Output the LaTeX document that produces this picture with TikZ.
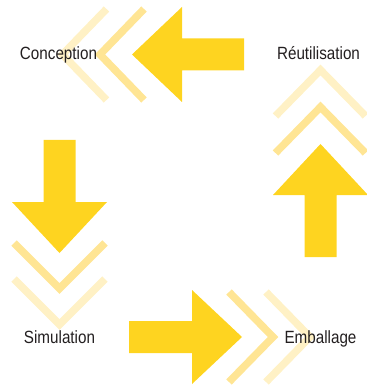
\documentclass[tikz,border=0pt]{standalone}
\usepackage{fontspec}
\newfontfamily\labfont{Liberation Sans}[FakeStretch=0.86]
\definecolor{mainy}{RGB}{254,212,32}
\definecolor{chevA}{RGB}{255,229,148}
\definecolor{chevB}{RGB}{255,241,197}
\definecolor{txt}{RGB}{35,31,32}
\tikzset{
  chev/.style={line width=7.5pt, line join=miter, line cap=butt},
  bigarrow/.style={fill=mainy, draw=none},
  lab/.style={anchor=base, inner sep=0pt, text=txt, font=\labfont\fontsize{17.7}{20}\selectfont}
}
\begin{document}
\begin{tikzpicture}[x=1pt,y=-1pt]
\useasboundingbox (0,0) rectangle (366,390);
% chevrons: top (pointing left)
\draw[chev, chevB] (106.5,9) -- (62.5,54.5) -- (106.5,100);
\draw[chev, chevA] (144,9) -- (100,54.5) -- (144,100);
% chevrons: right (pointing up)
\draw[chev, chevB] (275.5,116) -- (320.5,70) -- (365.5,116);
\draw[chev, chevA] (275.5,153) -- (320.5,107) -- (365.5,153);
% chevrons: left (pointing down)
\draw[chev, chevA] (14,243) -- (59.5,288.5) -- (105,243);
\draw[chev, chevB] (14,279) -- (59.5,324.5) -- (105,279);
% chevrons: bottom (pointing right)
\draw[chev, chevA] (229,292) -- (273,337) -- (229,382);
\draw[chev, chevB] (266,292) -- (310,337) -- (266,382);
% big arrows
\fill[bigarrow] (132,54.5) -- (182,7) -- (182,38.5) -- (244,38.5) -- (244,70.5) -- (182,70.5) -- (182,102) -- cycle;
\fill[bigarrow] (320.5,144) -- (368,195) -- (336.5,195) -- (336.5,257) -- (304.5,257) -- (304.5,195) -- (273,195) -- cycle;
\fill[bigarrow] (59.5,253) -- (12,202) -- (43.5,202) -- (43.5,140) -- (75.5,140) -- (75.5,202) -- (107,202) -- cycle;
\fill[bigarrow] (242,337) -- (192,290) -- (192,321) -- (129,321) -- (129,353) -- (192,353) -- (192,384) -- cycle;
% labels
\node[lab] (conc) at (58.5,60) {Conception};
\node[lab] (reut) at (318.5,60) {Réutilisation};
\node[lab] (simu) at (59.5,343) {Simulation};
\node[lab] (emba) at (320.5,343) {Emballage};
\end{tikzpicture}
\end{document}
